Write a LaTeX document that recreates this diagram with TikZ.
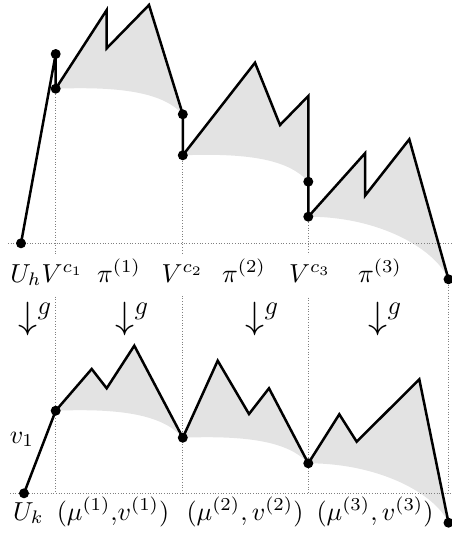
\RequirePackage{fix-cm}
\documentclass[tikz,border=0pt]{standalone}
\usepackage{amsmath}
\newcommand\bigtxt[1]{\scalebox{2.6}{#1}}
\tikzset{
  walk/.style={line width=2.5pt},
  shadearea/.style={fill=gray!22},
  guide/.style={gray, dotted, line width=0.7pt},
  pt/.style={circle, fill=black, inner sep=0pt, minimum size=10pt},
  toplab/.style={fill=white, inner xsep=3pt, inner ysep=7pt, text height=20pt, text depth=7pt, anchor=base, font=\fontsize{10}{12}\selectfont},
  botlab/.style={inner sep=1pt, anchor=base, font=\fontsize{10}{12}\selectfont},
  maplab/.style={inner sep=0pt, anchor=base west, font=\fontsize{38}{42}\selectfont},
}
\begin{document}
\begin{tikzpicture}[x=1pt,y=-1pt]
\useasboundingbox (0,0) rectangle (452,538);
% top walk points
\coordinate (t0) at (21,243.3);
\coordinate (t1) at (55.7,54);
\coordinate (t2) at (55.7,88.7);
\coordinate (t3) at (182.8,114.3);
\coordinate (t4) at (182.8,155.3);
\coordinate (t5) at (308.3,181.7);
\coordinate (t6) at (308.3,216.7);
\coordinate (t7) at (448.5,279.3);
% bottom walk points
\coordinate (b0) at (24,493.3);
\coordinate (b1) at (55.7,410.7);
\coordinate (b2) at (182.8,437.7);
\coordinate (b3) at (308.3,463.3);
\coordinate (b4) at (448.5,522.7);
% guide ends
\coordinate (hl1) at (8,243.3);  \coordinate (hr1) at (452,243.3);
\coordinate (hl2) at (10,493.3); \coordinate (hr2) at (452,493.3);
\coordinate (v1) at (55.7,493.3);
\coordinate (v2) at (182.8,493.3);
\coordinate (v3) at (308.3,493.3);
\coordinate (v4) at (448.5,493.3);

% shaded regions (top)
\fill[shadearea] (t2) -- (106.7,10) -- (106.7,48.3) -- (149,5) -- (t3)
  .. controls (163.9,93.8) and (125.7,86.1) .. (t2);
\fill[shadearea] (t4) -- (255,62.7) -- (280,125) -- (308.3,96) -- (t5)
  .. controls (289.5,160.6) and (251.9,152.7) .. (t4);
\fill[shadearea] (t6) -- (365,153.3) -- (365,195.7) -- (409.3,139.3) -- (t7)
  .. controls (434.5,248) and (378.4,216.7) .. (t6);
% shaded regions (bottom)
\fill[shadearea] (b1) -- (91.7,369) -- (106.7,388.3) -- (134.3,345.7) -- (b2)
  .. controls (163.7,416.1) and (125.6,408) .. (b1);
\fill[shadearea] (b2) -- (217.7,360.7) -- (249,414) -- (269,388.3) -- (b3)
  .. controls (289.5,442.8) and (251.8,435.1) .. (b2);
\fill[shadearea] (b3) -- (339.3,414.3) -- (356.7,441.7) -- (419.3,379.3) -- (b4)
  .. controls (434.5,493) and (378.4,463.3) .. (b3);

% guides
\draw[guide] (hl1) -- (hr1);
\draw[guide] (hl2) -- (hr2);
\draw[guide] (t2) -- (v1);
\draw[guide] (t4) -- (v2);
\draw[guide] (t6) -- (v3);
\draw[guide] (t7) -- (v4);

% labels top row
\node[toplab] (uh) at (26,282) {\bigtxt{$U_h$}};
\node[toplab] (vc1) at (62.5,282) {\bigtxt{$V^{c_1}$}};
\node[toplab] (pi1) at (119,282) {\bigtxt{$\pi^{(1)}$}};
\node[toplab] (vc2) at (182.5,282) {\bigtxt{$V^{c_2}$}};
\node[toplab] (pi2) at (244,282) {\bigtxt{$\pi^{(2)}$}};
\node[toplab] (vc3) at (310,282) {\bigtxt{$V^{c_3}$}};
\node[toplab] (pi3) at (380,282) {\bigtxt{$\pi^{(3)}$}};
% map arrows
\node[maplab] (g1) at (18.5,328) {$\downarrow^{g}$};
\node[maplab] (g2) at (115.5,328) {$\downarrow^{g}$};
\node[maplab] (g3) at (245.5,328) {$\downarrow^{g}$};
\node[maplab] (g4) at (368.5,328) {$\downarrow^{g}$};
% bottom labels
\node[botlab] (v1lab) at (22,443) {\bigtxt{$v_1$}};
\node[botlab] (uk) at (28.5,520) {\bigtxt{$U_k$}};
\node[botlab] (mu1) at (113,520) {\bigtxt{$(\mu^{(1)}{,}v^{(1)})$}};
\node[botlab] (mu2) at (245,520) {\bigtxt{$(\mu^{(2)}, v^{(2)})$}};
\node[botlab] (mu3) at (375,520) {\bigtxt{$(\mu^{(3)}, v^{(3)})$}};

% walks
\draw[walk] (t0) -- (t1) -- (t2) -- (106.7,10) -- (106.7,48.3) -- (149,5) -- (t3) -- (t4)
  -- (255,62.7) -- (280,125) -- (308.3,96) -- (t5) -- (t6)
  -- (365,153.3) -- (365,195.7) -- (409.3,139.3) -- (t7);
\draw[walk] (b0) -- (b1) -- (91.7,369) -- (106.7,388.3) -- (134.3,345.7) -- (b2)
  -- (217.7,360.7) -- (249,414) -- (269,388.3) -- (b3)
  -- (339.3,414.3) -- (356.7,441.7) -- (419.3,379.3) -- (b4);

% dots
\foreach \p in {t0,t1,t2,t3,t4,t5,t6,t7,b0,b1,b2,b3,b4}
  \node[pt] (d\p) at (\p) {};
\end{tikzpicture}
\end{document}
